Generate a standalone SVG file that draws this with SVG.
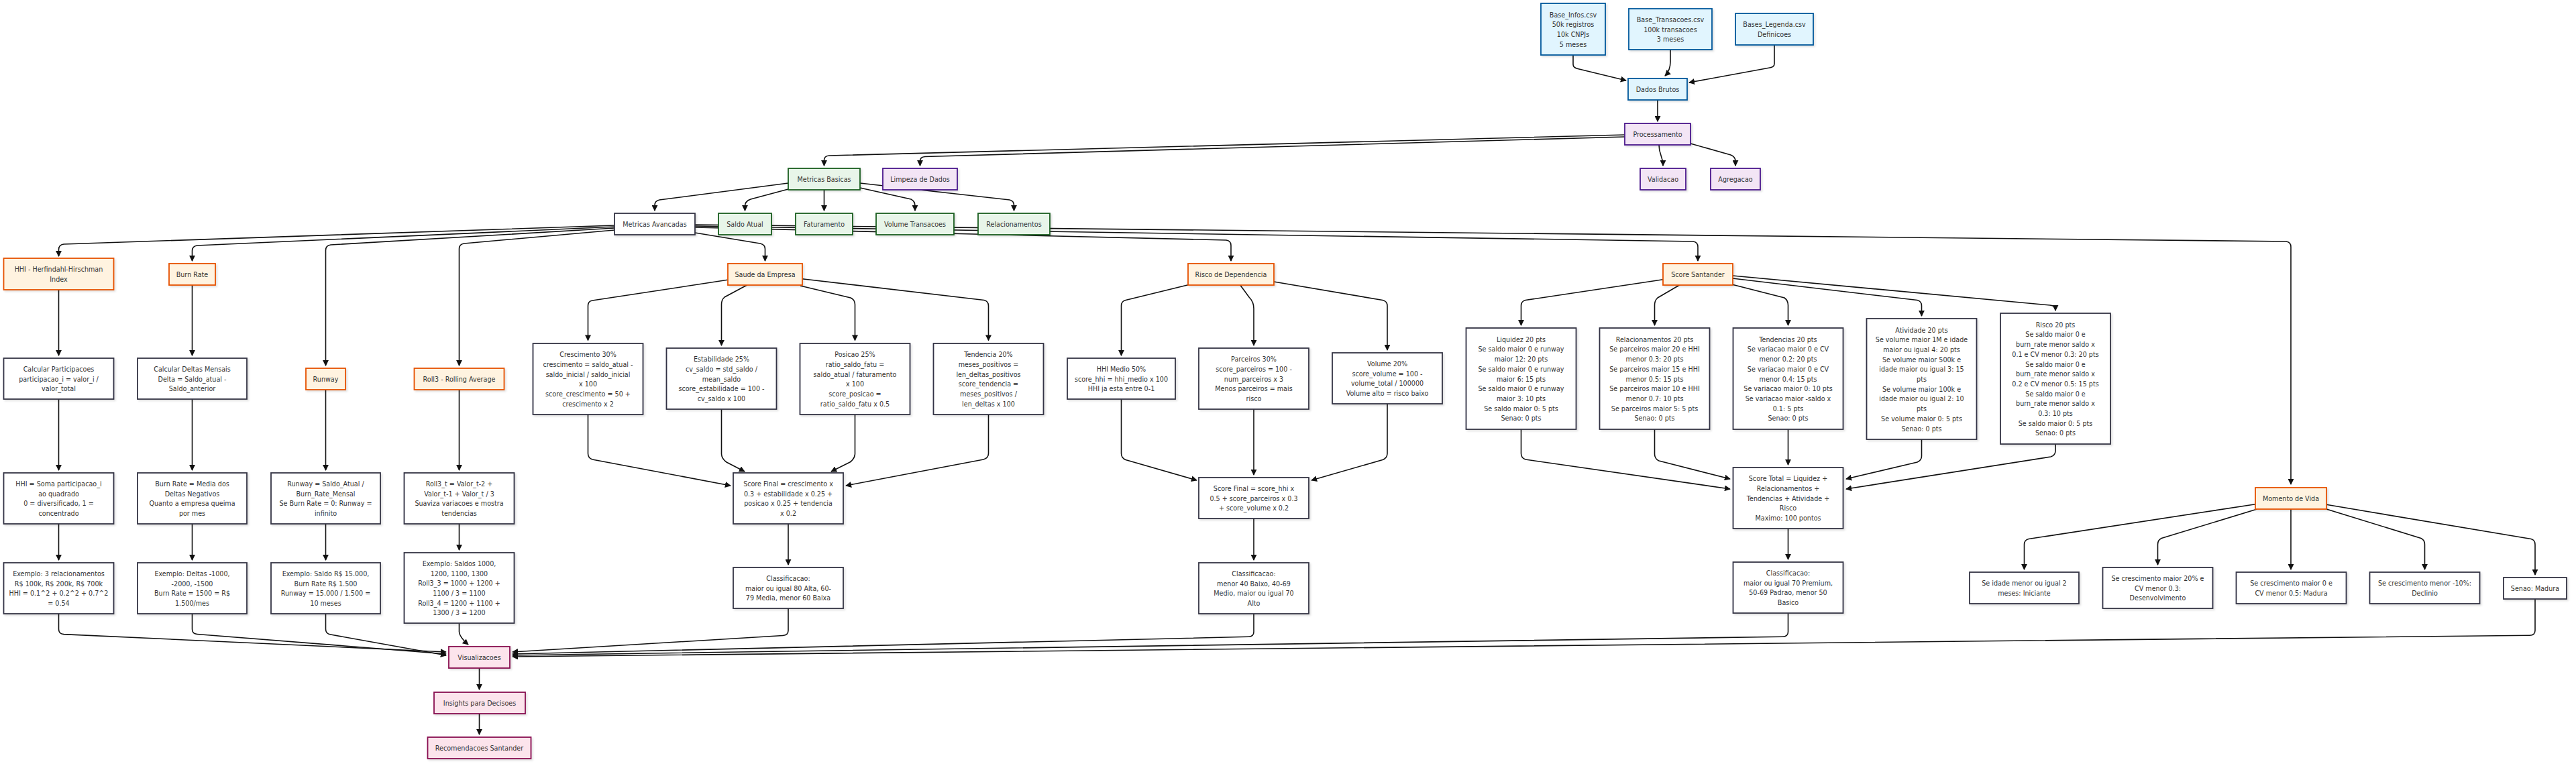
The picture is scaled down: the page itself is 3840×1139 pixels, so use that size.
<svg xmlns="http://www.w3.org/2000/svg" width="3840" height="1139" viewBox="0 0 3840 1139">
<defs>
<marker id="arr" viewBox="0 0 10 10" refX="9" refY="5" markerWidth="9" markerHeight="9" markerUnits="userSpaceOnUse" orient="auto"><path d="M0,0 L10,5 L0,10 z" fill="#111"/></marker>
<filter id="sh" x="-10%" y="-10%" width="130%" height="140%"><feDropShadow dx="2" dy="2" stdDeviation="1.5" flood-color="#000" flood-opacity="0.12"/></filter>
</defs>
<style>
.n rect{stroke-width:1.8;filter:url(#sh)}
.blue rect{fill:#e1f5fe;stroke:#01579b}
.purple rect{fill:#f3e5f5;stroke:#4a148c}
.green rect{fill:#e8f5e9;stroke:#1b5e20}
.orange rect{fill:#fff3e0;stroke:#e65100}
.pink rect{fill:#fce4ec;stroke:#880e4f}
.plain rect{fill:#ffffff;stroke:#333344}
text{font-family:'DejaVu Sans',Verdana,sans-serif;font-size:9.6px;fill:#333;text-anchor:middle;dominant-baseline:central}
.edges path{fill:none;stroke:#111;stroke-width:1.6;marker-end:url(#arr)}
</style>
<rect width="3840" height="1139" fill="#ffffff"/>
<g id="connectors" class="edges">
<path d="M2345,82 L2345,96 Q2345,101 2352,102.5 L2424,120"/>
<path d="M2490,74 L2490,92 Q2490,105 2482,113"/>
<path d="M2645,67 L2645,95 Q2645,100 2638,101 L2518,123"/>
<path d="M2471,149 L2471,181"/>
<path d="M2422,201 L1236,232 Q1228.5,232.5 1228.5,239 L1228.5,247"/>
<path d="M2422,204 L1379,233.5 Q1371.5,234 1371.5,240 L1371.5,247"/>
<path d="M2473,216 C2473,232 2479,232 2479,247"/>
<path d="M2520,214 L2580,231 Q2587,234 2587,240 L2587,247"/>
<path d="M1175,273 L983,298 Q976,299.5 976,306 L976,314"/>
<path d="M1175,282 L1119,297 Q1110.5,300 1110.5,307 L1110.5,314"/>
<path d="M1228.5,283 L1228.5,314"/>
<path d="M1282,280 L1358,297 Q1364,300 1364,307 L1364,314"/>
<path d="M1282,273 L1505,298 Q1511.5,299.5 1511.5,306 L1511.5,314"/>
<path d="M916,336 L95,364 Q87.5,365 87.5,372 L87.5,382"/>
<path d="M916,338 L294,366 Q286.5,367 286.5,374 L286.5,389"/>
<path d="M916,340 L493,365 Q485.5,366 485.5,373 L485.5,545"/>
<path d="M916,343 L692,363 Q684.5,364 684.5,371 L684.5,545"/>
<path d="M1036,347 L1133,363 Q1140.5,364.5 1140.5,371 L1140.5,389"/>
<path d="M1036,339 L1828,358 Q1835,359 1835,366 L1835,389"/>
<path d="M1036,337 L2524,360 Q2531,361 2531,368 L2531,389"/>
<path d="M1036,335 L3408,360 Q3415,361 3415,368 L3415,722"/>
<path d="M87.5,432 L87.5,530"/>
<path d="M87.5,595 L87.5,701"/>
<path d="M87.5,781 L87.5,835"/>
<path d="M286.5,425 L286.5,530"/>
<path d="M286.5,595 L286.5,701"/>
<path d="M286.5,781 L286.5,835"/>
<path d="M485.5,581 L485.5,701"/>
<path d="M485.5,781 L485.5,835"/>
<path d="M684.5,581 L684.5,701"/>
<path d="M684.5,781 L684.5,820"/>
<path d="M1084.6,417.3 L883,448 Q876.5,449 876.5,456 L876.5,507.5"/>
<path d="M1114,424.7 L1080,443 Q1075.5,447 1075.5,454 L1075.5,515"/>
<path d="M1193,426 L1268,444 Q1274.5,447 1274.5,454 L1274.5,507.5"/>
<path d="M1195.8,415.7 L1467,447.5 Q1473.5,449 1473.5,456 L1473.5,507.5"/>
<path d="M876.5,618 L876.5,676 Q876.5,683 883,685 L1089,724"/>
<path d="M1075.5,610 L1075.5,677 Q1076,684 1083,689 L1110,703"/>
<path d="M1274.5,618 L1274.5,677 Q1274,684 1267,689 L1239,703"/>
<path d="M1473.5,618 L1473.5,676 Q1473.5,683 1466,685 L1261,724"/>
<path d="M1175,781 L1175,842"/>
<path d="M1771,424.7 L1678,447.5 Q1671.5,449 1671.5,456 L1671.5,530"/>
<path d="M1848.6,424.7 L1862,443 Q1869,450 1869,460 L1869,515"/>
<path d="M1899,420 L2061,447.5 Q2068,449 2068,456 L2068,522"/>
<path d="M1671.5,595 L1671.5,676 Q1671.5,683 1678,685.5 L1784,716"/>
<path d="M1869,610 L1869,708"/>
<path d="M2068,602 L2068,676 Q2068,683 2061,685.5 L1955,716"/>
<path d="M1869,773 L1869,835"/>
<path d="M2479,416.7 L2274,447.5 Q2267.5,449 2267.5,456 L2267.5,485"/>
<path d="M2504.8,424.3 L2471,444 Q2466.5,448 2466.5,455 L2466.5,485"/>
<path d="M2582.6,424.3 L2660,444 Q2665.5,448 2665.5,455 L2665.5,485"/>
<path d="M2582.6,415 L2858,447.5 Q2864.5,449 2864.5,456 L2864.5,471"/>
<path d="M2582.6,411 L3056,455 Q3064,456 3064,461 L3064,463"/>
<path d="M2267.5,640 L2267.5,676 Q2267.5,683 2274,685 L2579,729"/>
<path d="M2466.5,640 L2466.5,677 Q2466.5,684 2473,687 L2579,714"/>
<path d="M2665.5,640 L2665.5,693"/>
<path d="M2864.5,655 L2864.5,680 Q2864.5,686 2858,689 L2752,714"/>
<path d="M3064,662 L3064,672 Q3064,679 3057,681 L2752,729"/>
<path d="M2665.5,788 L2665.5,834"/>
<path d="M3362,751.7 L3024,803.5 Q3017.5,805 3017.5,812 L3017.5,849"/>
<path d="M3364.6,759 L3222,802.5 Q3216.5,805 3216.5,812 L3216.5,842"/>
<path d="M3415,759 L3415,849"/>
<path d="M3468,759 L3609,802.5 Q3614.5,805 3614.5,812 L3614.5,849"/>
<path d="M3468,752.3 L3773,803.5 Q3779,805 3779,812 L3779,857"/>
<path d="M87.5,915 L87.5,938 Q87.5,945 95,945.6 L665,972"/>
<path d="M286.5,915 L286.5,938 Q286.5,945 294,945.5 L665,975"/>
<path d="M485.5,915 L485.5,938 Q485.5,945 493,946 L665,977"/>
<path d="M684.5,929 L684.5,942 Q685,950 698,961"/>
<path d="M1175,907 L1175,940 Q1175,947 1167,947.5 L764,972"/>
<path d="M1869,915 L1869,942 Q1869,949 1861,949.3 L764,975"/>
<path d="M2665.5,914 L2665.5,942 Q2665.5,949 2657,949.2 L764,977"/>
<path d="M3779,893 L3779,940 Q3779,947 3771,947.2 L764,979"/>
<path d="M714.5,996 L714.5,1028"/>
<path d="M714.5,1064 L714.5,1095"/>
</g>
<g id="base_infos" class="n blue"><rect x="2297" y="5" width="96" height="77"/><text x="2345"><tspan x="2345" y="21.5">Base_Infos.csv</tspan><tspan x="2345" y="36.2">50k registros</tspan><tspan x="2345" y="50.9">10k CNPJs</tspan><tspan x="2345" y="65.6">5 meses</tspan></text></g>
<g id="base_transacoes" class="n blue"><rect x="2428" y="13" width="124" height="61"/><text><tspan x="2490" y="28.8">Base_Transacoes.csv</tspan><tspan x="2490" y="43.5">100k transacoes</tspan><tspan x="2490" y="58.2">3 meses</tspan></text></g>
<g id="bases_legenda" class="n blue"><rect x="2587" y="20" width="116" height="47"/><text><tspan x="2645" y="36.2">Bases_Legenda.csv</tspan><tspan x="2645" y="50.9">Definicoes</tspan></text></g>
<g id="dados_brutos" class="n blue"><rect x="2427" y="117" width="88" height="32"/><text x="2471" y="133">Dados Brutos</text></g>
<g id="processamento" class="n purple"><rect x="2422" y="184" width="98" height="32"/><text x="2471" y="200">Processamento</text></g>
<g id="metricas_basicas" class="n green"><rect x="1175" y="251" width="107" height="32"/><text x="1228.5" y="267">Metricas Basicas</text></g>
<g id="limpeza" class="n purple"><rect x="1316" y="251" width="111" height="32"/><text x="1371.5" y="267">Limpeza de Dados</text></g>
<g id="validacao" class="n purple"><rect x="2445" y="251" width="68" height="32"/><text x="2479" y="267">Validacao</text></g>
<g id="agregacao" class="n purple"><rect x="2550" y="251" width="74" height="32"/><text x="2587" y="267">Agregacao</text></g>
<g id="metricas_avancadas" class="n plain"><rect x="916" y="318" width="120" height="32"/><text x="976" y="334">Metricas Avancadas</text></g>
<g id="saldo_atual" class="n green"><rect x="1071" y="318" width="79" height="32"/><text x="1110.5" y="334">Saldo Atual</text></g>
<g id="faturamento" class="n green"><rect x="1186" y="318" width="85" height="32"/><text x="1228.5" y="334">Faturamento</text></g>
<g id="volume_transacoes" class="n green"><rect x="1306" y="318" width="116" height="32"/><text x="1364" y="334">Volume Transacoes</text></g>
<g id="relacionamentos" class="n green"><rect x="1458" y="318" width="107" height="32"/><text x="1511.5" y="334">Relacionamentos</text></g>
<g id="hhi" class="n orange"><rect x="5.5" y="385" width="164" height="47"/><text><tspan x="87.5" y="401.2">HHI - Herfindahl-Hirschman</tspan><tspan x="87.5" y="415.8">Index</tspan></text></g>
<g id="burn_rate" class="n orange"><rect x="252" y="393" width="69" height="32"/><text x="286.5" y="409">Burn Rate</text></g>
<g id="calc_part" class="n plain"><rect x="5.5" y="534" width="164" height="61"/><text><tspan x="87.5" y="549.8">Calcular Participacoes</tspan><tspan x="87.5" y="564.5">participacao_i = valor_i /</tspan><tspan x="87.5" y="579.2">valor_total</tspan></text></g>
<g id="calc_delta" class="n plain"><rect x="205" y="534" width="163" height="61"/><text><tspan x="286.5" y="549.8">Calcular Deltas Mensais</tspan><tspan x="286.5" y="564.5">Delta = Saldo_atual -</tspan><tspan x="286.5" y="579.2">Saldo_anterior</tspan></text></g>
<g id="runway" class="n orange"><rect x="456" y="549" width="59" height="32"/><text x="485.5" y="565">Runway</text></g>
<g id="roll3" class="n orange"><rect x="617.5" y="549" width="134" height="32"/><text x="684.5" y="565">Roll3 - Rolling Average</text></g>
<g id="hhi_formula" class="n plain"><rect x="5.5" y="705" width="164" height="76"/><text><tspan x="87.5" y="721">HHI = Soma participacao_i</tspan><tspan x="87.5" y="735.7">ao quadrado</tspan><tspan x="87.5" y="750.4">0 = diversificado, 1 =</tspan><tspan x="87.5" y="765.1">concentrado</tspan></text></g>
<g id="burn_formula" class="n plain"><rect x="205" y="705" width="163" height="76"/><text><tspan x="286.5" y="721">Burn Rate = Media dos</tspan><tspan x="286.5" y="735.7">Deltas Negativos</tspan><tspan x="286.5" y="750.4">Quanto a empresa queima</tspan><tspan x="286.5" y="765.1">por mes</tspan></text></g>
<g id="runway_formula" class="n plain"><rect x="404" y="705" width="163" height="76"/><text><tspan x="485.5" y="721">Runway = Saldo_Atual /</tspan><tspan x="485.5" y="735.7">Burn_Rate_Mensal</tspan><tspan x="485.5" y="750.4">Se Burn Rate = 0: Runway =</tspan><tspan x="485.5" y="765.1">infinito</tspan></text></g>
<g id="roll3_formula" class="n plain"><rect x="602.5" y="705" width="164" height="76"/><text><tspan x="684.5" y="721">Roll3_t = Valor_t-2 +</tspan><tspan x="684.5" y="735.7">Valor_t-1 + Valor_t / 3</tspan><tspan x="684.5" y="750.4">Suaviza variacoes e mostra</tspan><tspan x="684.5" y="765.1">tendencias</tspan></text></g>
<g id="hhi_exemplo" class="n plain"><rect x="5.5" y="839" width="164" height="76"/><text><tspan x="87.5" y="855">Exemplo: 3 relacionamentos</tspan><tspan x="87.5" y="869.7">R$ 100k, R$ 200k, R$ 700k</tspan><tspan x="87.5" y="884.4">HHI = 0.1^2 + 0.2^2 + 0.7^2</tspan><tspan x="87.5" y="899.1">= 0.54</tspan></text></g>
<g id="burn_exemplo" class="n plain"><rect x="205" y="839" width="163" height="76"/><text><tspan x="286.5" y="855">Exemplo: Deltas -1000,</tspan><tspan x="286.5" y="869.7">-2000, -1500</tspan><tspan x="286.5" y="884.4">Burn Rate = 1500 = R$</tspan><tspan x="286.5" y="899.1">1.500/mes</tspan></text></g>
<g id="runway_exemplo" class="n plain"><rect x="404" y="839" width="163" height="76"/><text><tspan x="485.5" y="855">Exemplo: Saldo R$ 15.000,</tspan><tspan x="485.5" y="869.7">Burn Rate R$ 1.500</tspan><tspan x="485.5" y="884.4">Runway = 15.000 / 1.500 =</tspan><tspan x="485.5" y="899.1">10 meses</tspan></text></g>
<g id="roll3_exemplo" class="n plain"><rect x="602.5" y="824" width="164" height="105"/><text><tspan x="684.5" y="839.8">Exemplo: Saldos 1000,</tspan><tspan x="684.5" y="854.5">1200, 1100, 1300</tspan><tspan x="684.5" y="869.2">Roll3_3 = 1000 + 1200 +</tspan><tspan x="684.5" y="883.9">1100 / 3 = 1100</tspan><tspan x="684.5" y="898.6">Roll3_4 = 1200 + 1100 +</tspan><tspan x="684.5" y="913.3">1300 / 3 = 1200</tspan></text></g>
<g id="saude" class="n orange"><rect x="1085" y="393" width="111" height="32"/><text x="1140.5" y="409">Saude da Empresa</text></g>
<g id="crescimento" class="n plain"><rect x="794.5" y="512" width="164" height="106"/><text><tspan x="876.5" y="528.3">Crescimento 30%</tspan><tspan x="876.5" y="543">crescimento = saldo_atual -</tspan><tspan x="876.5" y="557.7">saldo_inicial / saldo_inicial</tspan><tspan x="876.5" y="572.4">x 100</tspan><tspan x="876.5" y="587.1">score_crescimento = 50 +</tspan><tspan x="876.5" y="601.8">crescimento x 2</tspan></text></g>
<g id="estabilidade" class="n plain"><rect x="993.5" y="519" width="164" height="91"/><text><tspan x="1075.5" y="535.1">Estabilidade 25%</tspan><tspan x="1075.5" y="549.8">cv_saldo = std_saldo /</tspan><tspan x="1075.5" y="564.5">mean_saldo</tspan><tspan x="1075.5" y="579.2">score_estabilidade = 100 -</tspan><tspan x="1075.5" y="593.9">cv_saldo x 100</tspan></text></g>
<g id="posicao" class="n plain"><rect x="1192.5" y="512" width="164" height="106"/><text><tspan x="1274.5" y="528.3">Posicao 25%</tspan><tspan x="1274.5" y="543">ratio_saldo_fatu =</tspan><tspan x="1274.5" y="557.7">saldo_atual / faturamento</tspan><tspan x="1274.5" y="572.4">x 100</tspan><tspan x="1274.5" y="587.1">score_posicao =</tspan><tspan x="1274.5" y="601.8">ratio_saldo_fatu x 0.5</tspan></text></g>
<g id="tendencia" class="n plain"><rect x="1391.5" y="512" width="164" height="106"/><text><tspan x="1473.5" y="528.3">Tendencia 20%</tspan><tspan x="1473.5" y="543">meses_positivos =</tspan><tspan x="1473.5" y="557.7">len_deltas_positivos</tspan><tspan x="1473.5" y="572.4">score_tendencia =</tspan><tspan x="1473.5" y="587.1">meses_positivos /</tspan><tspan x="1473.5" y="601.8">len_deltas x 100</tspan></text></g>
<g id="score_saude" class="n plain"><rect x="1093" y="705" width="164" height="76"/><text><tspan x="1175" y="721">Score Final = crescimento x</tspan><tspan x="1175" y="735.7">0.3 + estabilidade x 0.25 +</tspan><tspan x="1175" y="750.4">posicao x 0.25 + tendencia</tspan><tspan x="1175" y="765.1">x 0.2</tspan></text></g>
<g id="class_saude" class="n plain"><rect x="1093" y="846" width="164" height="61"/><text><tspan x="1175" y="861.8">Classificacao:</tspan><tspan x="1175" y="876.5">maior ou igual 80 Alta, 60-</tspan><tspan x="1175" y="891.2">79 Media, menor 60 Baixa</tspan></text></g>
<g id="risco_dependencia" class="n orange"><rect x="1771" y="393" width="128" height="32"/><text x="1835" y="409">Risco de Dependencia</text></g>
<g id="hhi_medio" class="n plain"><rect x="1591" y="534" width="161" height="61"/><text><tspan x="1671.5" y="549.8">HHI Medio 50%</tspan><tspan x="1671.5" y="564.5">score_hhi = hhi_medio x 100</tspan><tspan x="1671.5" y="579.2">HHI ja esta entre 0-1</tspan></text></g>
<g id="parceiros" class="n plain"><rect x="1787" y="519" width="164" height="91"/><text><tspan x="1869" y="535.1">Parceiros 30%</tspan><tspan x="1869" y="549.8">score_parceiros = 100 -</tspan><tspan x="1869" y="564.5">num_parceiros x 3</tspan><tspan x="1869" y="579.2">Menos parceiros = mais</tspan><tspan x="1869" y="593.9">risco</tspan></text></g>
<g id="volume" class="n plain"><rect x="1986" y="526" width="164" height="76"/><text><tspan x="2068" y="542">Volume 20%</tspan><tspan x="2068" y="556.7">score_volume = 100 -</tspan><tspan x="2068" y="571.4">volume_total / 100000</tspan><tspan x="2068" y="586.1">Volume alto = risco baixo</tspan></text></g>
<g id="score_risco" class="n plain"><rect x="1787" y="712" width="164" height="61"/><text><tspan x="1869" y="727.8">Score Final = score_hhi x</tspan><tspan x="1869" y="742.5">0.5 + score_parceiros x 0.3</tspan><tspan x="1869" y="757.2">+ score_volume x 0.2</tspan></text></g>
<g id="class_risco" class="n plain"><rect x="1787" y="839" width="164" height="76"/><text><tspan x="1869" y="855">Classificacao:</tspan><tspan x="1869" y="869.7">menor 40 Baixo, 40-69</tspan><tspan x="1869" y="884.4">Medio, maior ou igual 70</tspan><tspan x="1869" y="899.1">Alto</tspan></text></g>
<g id="score_santander" class="n orange"><rect x="2479" y="393" width="104" height="32"/><text x="2531" y="409">Score Santander</text></g>
<g id="liquidez" class="n plain"><rect x="2185.5" y="489" width="164" height="151"/><text><tspan x="2267.5" y="505.7">Liquidez 20 pts</tspan><tspan x="2267.5" y="520.4">Se saldo maior 0 e runway</tspan><tspan x="2267.5" y="535.1">maior 12: 20 pts</tspan><tspan x="2267.5" y="549.8">Se saldo maior 0 e runway</tspan><tspan x="2267.5" y="564.5">maior 6: 15 pts</tspan><tspan x="2267.5" y="579.2">Se saldo maior 0 e runway</tspan><tspan x="2267.5" y="593.9">maior 3: 10 pts</tspan><tspan x="2267.5" y="608.6">Se saldo maior 0: 5 pts</tspan><tspan x="2267.5" y="623.3">Senao: 0 pts</tspan></text></g>
<g id="relacionamentos_pts" class="n plain"><rect x="2384.5" y="489" width="164" height="151"/><text><tspan x="2466.5" y="505.7">Relacionamentos 20 pts</tspan><tspan x="2466.5" y="520.4">Se parceiros maior 20 e HHI</tspan><tspan x="2466.5" y="535.1">menor 0.3: 20 pts</tspan><tspan x="2466.5" y="549.8">Se parceiros maior 15 e HHI</tspan><tspan x="2466.5" y="564.5">menor 0.5: 15 pts</tspan><tspan x="2466.5" y="579.2">Se parceiros maior 10 e HHI</tspan><tspan x="2466.5" y="593.9">menor 0.7: 10 pts</tspan><tspan x="2466.5" y="608.6">Se parceiros maior 5: 5 pts</tspan><tspan x="2466.5" y="623.3">Senao: 0 pts</tspan></text></g>
<g id="tendencias_pts" class="n plain"><rect x="2583.5" y="489" width="164" height="151"/><text><tspan x="2665.5" y="505.7">Tendencias 20 pts</tspan><tspan x="2665.5" y="520.4">Se variacao maior 0 e CV</tspan><tspan x="2665.5" y="535.1">menor 0.2: 20 pts</tspan><tspan x="2665.5" y="549.8">Se variacao maior 0 e CV</tspan><tspan x="2665.5" y="564.5">menor 0.4: 15 pts</tspan><tspan x="2665.5" y="579.2">Se variacao maior 0: 10 pts</tspan><tspan x="2665.5" y="593.9">Se variacao maior -saldo x</tspan><tspan x="2665.5" y="608.6">0.1: 5 pts</tspan><tspan x="2665.5" y="623.3">Senao: 0 pts</tspan></text></g>
<g id="atividade_pts" class="n plain"><rect x="2782.5" y="475" width="164" height="180"/><text><tspan x="2864.5" y="491.5">Atividade 20 pts</tspan><tspan x="2864.5" y="506.2">Se volume maior 1M e idade</tspan><tspan x="2864.5" y="520.9">maior ou igual 4: 20 pts</tspan><tspan x="2864.5" y="535.6">Se volume maior 500k e</tspan><tspan x="2864.5" y="550.3">idade maior ou igual 3: 15</tspan><tspan x="2864.5" y="565">pts</tspan><tspan x="2864.5" y="579.7">Se volume maior 100k e</tspan><tspan x="2864.5" y="594.4">idade maior ou igual 2: 10</tspan><tspan x="2864.5" y="609.1">pts</tspan><tspan x="2864.5" y="623.8">Se volume maior 0: 5 pts</tspan><tspan x="2864.5" y="638.5">Senao: 0 pts</tspan></text></g>
<g id="risco_pts" class="n plain"><rect x="2982" y="467" width="164" height="195"/><text><tspan x="3064" y="483.7">Risco 20 pts</tspan><tspan x="3064" y="498.4">Se saldo maior 0 e</tspan><tspan x="3064" y="513.1">burn_rate menor saldo x</tspan><tspan x="3064" y="527.8">0.1 e CV menor 0.3: 20 pts</tspan><tspan x="3064" y="542.5">Se saldo maior 0 e</tspan><tspan x="3064" y="557.2">burn_rate menor saldo x</tspan><tspan x="3064" y="571.9">0.2 e CV menor 0.5: 15 pts</tspan><tspan x="3064" y="586.6">Se saldo maior 0 e</tspan><tspan x="3064" y="601.3">burn_rate menor saldo x</tspan><tspan x="3064" y="616">0.3: 10 pts</tspan><tspan x="3064" y="630.7">Se saldo maior 0: 5 pts</tspan><tspan x="3064" y="645.4">Senao: 0 pts</tspan></text></g>
<g id="score_total" class="n plain"><rect x="2583.5" y="697" width="164" height="91"/><text><tspan x="2665.5" y="713.1">Score Total = Liquidez +</tspan><tspan x="2665.5" y="727.8">Relacionamentos +</tspan><tspan x="2665.5" y="742.5">Tendencias + Atividade +</tspan><tspan x="2665.5" y="757.2">Risco</tspan><tspan x="2665.5" y="771.9">Maximo: 100 pontos</tspan></text></g>
<g id="class_santander" class="n plain"><rect x="2583.5" y="838" width="164" height="76"/><text><tspan x="2665.5" y="854">Classificacao:</tspan><tspan x="2665.5" y="868.7">maior ou igual 70 Premium,</tspan><tspan x="2665.5" y="883.4">50-69 Padrao, menor 50</tspan><tspan x="2665.5" y="898.1">Basico</tspan></text></g>
<g id="momento_vida" class="n orange"><rect x="3362" y="727" width="106" height="32"/><text x="3415" y="743">Momento de Vida</text></g>
<g id="iniciante" class="n plain"><rect x="2936" y="853" width="163" height="47"/><text><tspan x="3017.5" y="869.2">Se idade menor ou igual 2</tspan><tspan x="3017.5" y="883.9">meses: Iniciante</tspan></text></g>
<g id="desenvolvimento" class="n plain"><rect x="3134.5" y="846" width="164" height="61"/><text><tspan x="3216.5" y="861.8">Se crescimento maior 20% e</tspan><tspan x="3216.5" y="876.5">CV menor 0.3:</tspan><tspan x="3216.5" y="891.2">Desenvolvimento</tspan></text></g>
<g id="madura" class="n plain"><rect x="3333.5" y="853" width="164" height="47"/><text><tspan x="3415.5" y="869.2">Se crescimento maior 0 e</tspan><tspan x="3415.5" y="883.9">CV menor 0.5: Madura</tspan></text></g>
<g id="declinio" class="n plain"><rect x="3532.5" y="853" width="164" height="47"/><text><tspan x="3614.5" y="869.2">Se crescimento menor -10%:</tspan><tspan x="3614.5" y="883.9">Declinio</tspan></text></g>
<g id="senao_madura" class="n plain"><rect x="3732" y="861" width="94" height="32"/><text x="3779" y="877">Senao: Madura</text></g>
<g id="visualizacoes" class="n pink"><rect x="669" y="964" width="91" height="32"/><text x="714.5" y="980">Visualizacoes</text></g>
<g id="insights" class="n pink"><rect x="647" y="1032" width="136" height="32"/><text x="715" y="1048">Insights para Decisoes</text></g>
<g id="recomendacoes" class="n pink"><rect x="637.5" y="1099" width="154" height="32"/><text x="714.5" y="1115">Recomendacoes Santander</text></g>
</svg>
